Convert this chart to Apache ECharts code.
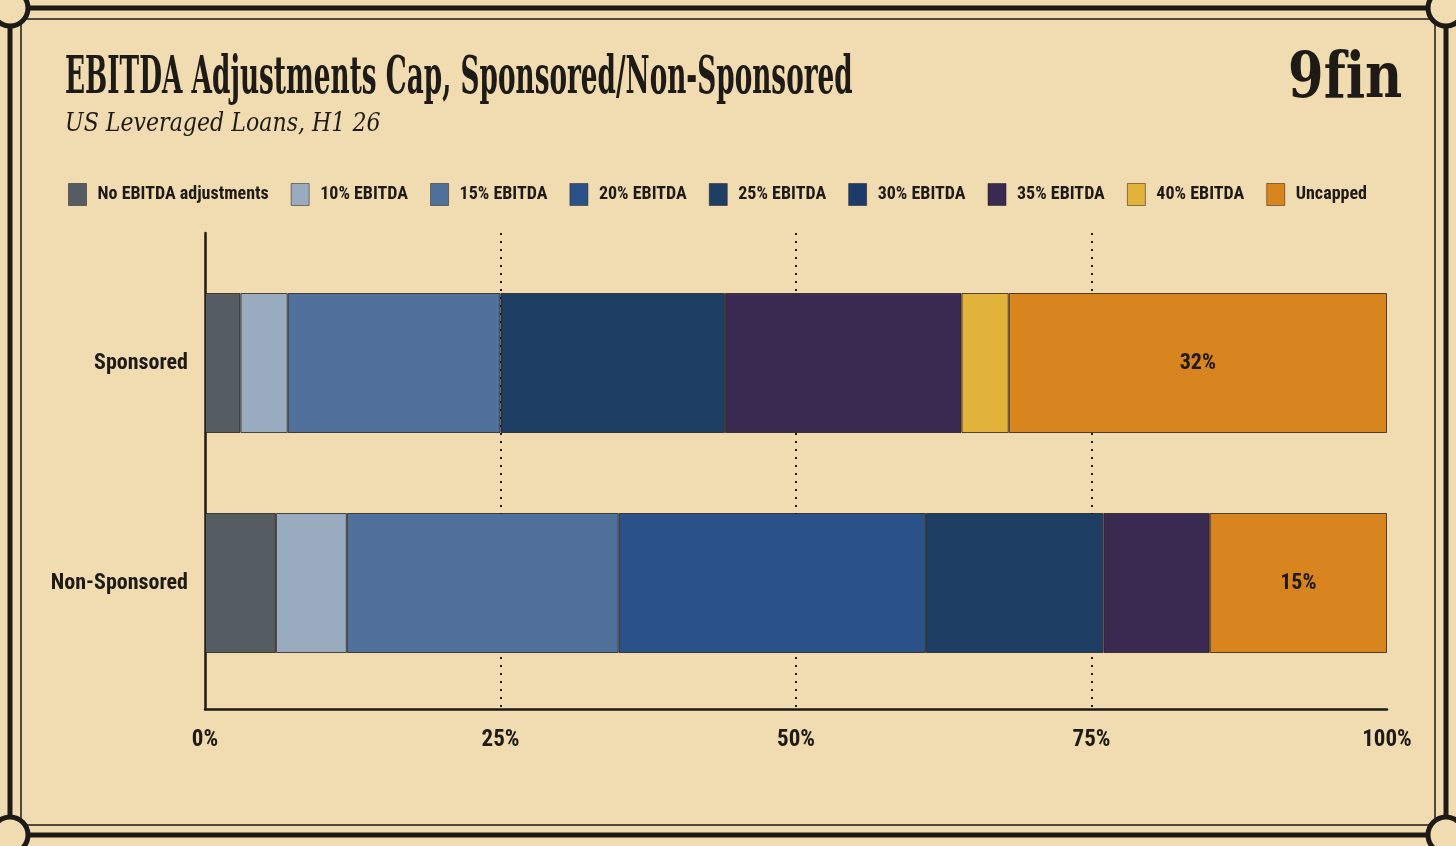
<!DOCTYPE html>
<html>
<head>
<meta charset="utf-8">
<script src="https://cdn.jsdelivr.net/npm/echarts@6/dist/echarts.min.js"></script>
<style>
  html, body { margin: 0; padding: 0; background: #f1dcb2; }
  #chart { width: 1456px; height: 846px; }
</style>
</head>
<body>
<div id="chart"></div>
<script>
// ---- data ----
const titleText = 'EBITDA Adjustments Cap, Sponsored/Non-Sponsored';
const subtitleText = 'US Leveraged Loans, H1 26';
const brandText = '9f\u200Cin';
const categories = ['Sponsored', 'Non-Sponsored'];
const seriesNames = ['No EBITDA adjustments', '10% EBITDA', '15% EBITDA', '20% EBITDA', '25% EBITDA', '30% EBITDA', '35% EBITDA', '40% EBITDA', 'Uncapped'];
const noAdjustments = [3, 6];
const ebitda10 = [4, 6];
const ebitda15 = [18, 23];
const ebitda20 = [0, 26];
const ebitda25 = [19, 15];
const ebitda30 = [0, 0];
const ebitda35 = [20, 9];
const ebitda40 = [4, 0];
const uncapped = [32, 15];

const seriesValues = [noAdjustments, ebitda10, ebitda15, ebitda20, ebitda25, ebitda30, ebitda35, ebitda40, uncapped];
const colors = ['#555c62', '#98abbf', '#50719c', '#2b5189', '#1f3e63', '#1d3b68', '#3a2950', '#e1b33b', '#d8841f'];

const FONT = '"Roboto Condensed", "DejaVu Sans Condensed", sans-serif';
const SERIF = '"DejaVu Serif", serif';
const INK = '#1e1a16';
const BG = '#f1dcb2';

const chart = echarts.init(document.getElementById('chart'));

const series = seriesNames.map((name, i) => ({
  name: name,
  type: 'bar',
  stack: 'total',
  xAxisIndex: 1,
  yAxisIndex: 1,
  barWidth: 140,
  data: seriesValues[i].map(v => (v === 0 ? '-' : v)),
  itemStyle: { color: colors[i], borderColor: 'rgba(30,26,22,0.75)', borderWidth: 1 },
  label: name === 'Uncapped' ? {
    show: true, position: 'inside', formatter: '{c}%',
    fontFamily: FONT, fontWeight: 'bold', fontSize: 22, color: INK
  } : { show: false },
  emphasis: { disabled: true }
}));

function cornerNotch(cx, cy) {
  return { type: 'circle', shape: { cx: cx, cy: cy, r: 18 }, style: { fill: BG, stroke: INK, lineWidth: 5 }, z: 101, silent: true };
}
const graphic = [
  { type: 'rect', shape: { x: 10, y: 8, width: 1436, height: 827 }, style: { fill: 'none', stroke: INK, lineWidth: 5 }, z: 100, silent: true },
  { type: 'rect', shape: { x: 21, y: 19, width: 1414, height: 806 }, style: { fill: 'none', stroke: INK, lineWidth: 1.5 }, z: 100, silent: true },
  cornerNotch(10, 8), cornerNotch(1446, 8), cornerNotch(10, 835), cornerNotch(1446, 835),
  { type: 'text', x: 65, y: 53, scaleX: 0.506, z: 103, silent: true,
    style: { x: 0, y: 0, text: titleText, font: 'bold 52px ' + SERIF, fill: INK } },
  { type: 'text', x: 65, y: 111, scaleX: 0.85, z: 103, silent: true,
    style: { x: 0, y: 0, text: subtitleText, font: 'italic 26px ' + SERIF, fill: INK } },
  { type: 'text', x: 1288, y: 48, scaleX: 0.8, z: 103, silent: true,
    style: { x: 0, y: 0, text: brandText, font: 'bold 64px ' + SERIF, fill: INK } }
];

chart.setOption({
  backgroundColor: BG,
  color: colors,
  animation: false,
  legend: {
    left: 63, top: 178,
    itemWidth: 18, itemHeight: 22, itemGap: 22,
    icon: 'rect',
    data: seriesNames,
    itemStyle: { borderColor: 'rgba(30,26,22,0.5)', borderWidth: 1 },
    textStyle: { fontFamily: FONT, fontWeight: 'bold', fontSize: 18, color: INK, padding: [0, 0, 0, 6] },
    selectedMode: false
  },
  graphic: graphic,
  grid: [
    { left: 205, right: 69, top: 233, bottom: 137, containLabel: false },
    { left: 205, right: 69, top: 253, bottom: 153, containLabel: false }
  ],
  xAxis: [{
    gridIndex: 0, type: 'value', min: 0, max: 100, interval: 25,
    axisLine: { show: true, lineStyle: { color: INK, width: 2.5 } },
    axisTick: { show: false },
    axisLabel: { formatter: '{value}%', fontFamily: FONT, fontWeight: 'bold', fontSize: 23, color: INK, margin: 20 },
    splitLine: { show: true, showMinLine: false, showMaxLine: false, lineStyle: { color: INK, type: [2, 6], width: 2 } }
  }, {
    gridIndex: 1, type: 'value', min: 0, max: 100, show: false
  }],
  yAxis: [{
    gridIndex: 0, type: 'category', data: categories, inverse: true,
    axisLine: { show: true, lineStyle: { color: INK, width: 2.5 } },
    axisTick: { show: false },
    axisLabel: { show: false }
  }, {
    gridIndex: 1, type: 'category', data: categories, inverse: true,
    axisLine: { show: false },
    axisTick: { show: false },
    splitLine: { show: false },
    axisLabel: { fontFamily: FONT, fontWeight: 'bold', fontSize: 22, color: INK, margin: 17 }
  }],
  series: series
});
</script>
</body>
</html>
